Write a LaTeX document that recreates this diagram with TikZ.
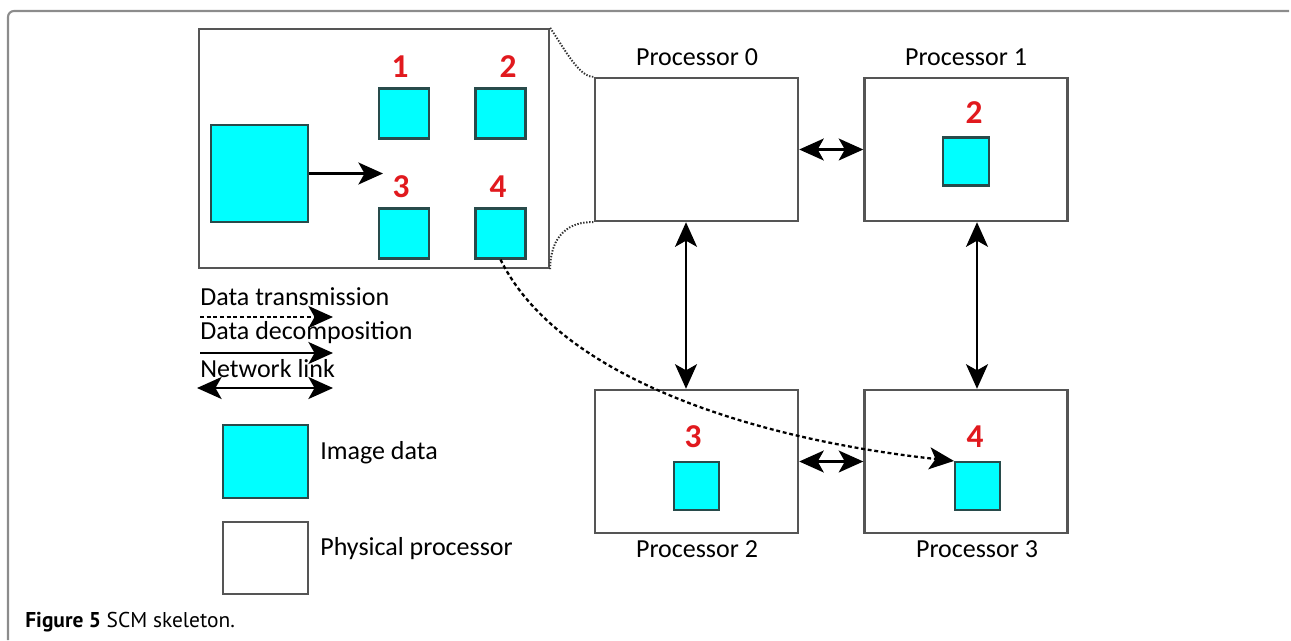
\documentclass[tikz,border=0pt]{standalone}
\usepackage{fontspec}
\setmainfont{Carlito}
\newfontfamily\capfont{PT Sans}
\usetikzlibrary{arrows.meta}
\definecolor{imgcyan}{RGB}{0,255,255}
\definecolor{imgedge}{RGB}{40,75,75}
\definecolor{boxgray}{RGB}{85,85,85}
\definecolor{framegray}{RGB}{140,140,140}
\definecolor{labelred}{RGB}{225,25,30}
\tikzset{
  imgbox/.style={draw=imgedge, fill=imgcyan, line width=1.2pt, inner sep=0pt},
  procbox/.style={draw=boxgray, line width=1.4pt, minimum width=4.06cm, minimum height=2.86cm, inner sep=0pt},
  partno/.style={text=labelred, inner sep=0pt, font=\fontsize{19}{19}\selectfont\bfseries},
  bigtip/.tip={Stealth[length=14pt, width=12.5pt, inset=3.5pt]},
  netlink/.style={line width=1.3pt, bigtip-bigtip},
  splitarrow/.style={line width=1.3pt, -bigtip},
  sendarrow/.style={line width=1.3pt, dash pattern=on 2.2pt off 1.6pt, -bigtip},
  zoomline/.style={line width=1.1pt, dash pattern=on 0.8pt off 0.9pt, black!80}
}
\begin{document}
\begin{tikzpicture}[x=0.02cm, y=-0.02cm, font=\fontsize{14.8}{16}\selectfont]
    \useasboundingbox (0,0) rectangle (1291,640);
    \draw[framegray, line width=1.2pt, rounded corners=0.12cm] (8,640) -- (8,11) -- (1289,11);

    \node[draw=boxgray, line width=1.4pt, minimum width=7cm, minimum height=4.78cm] (zoom) at (374,148.5) {};
    \node[imgbox, minimum size=1.94cm] (whole) at (259.5,173.5) {};
    \node[imgbox, minimum size=1cm] (part1) at (404,113.5) {};
    \node[imgbox, minimum size=1cm] (part2) at (500.5,113.5) {};
    \node[imgbox, minimum size=1cm] (part3) at (404,233.5) {};
    \node[imgbox, minimum size=1cm] (part4) at (500.5,233.5) {};
    \node[partno] (no1) at (400,67) {1};
    \node[partno] (no2) at (508,67) {2};
    \node[partno] (no3) at (401,187) {3};
    \node[partno] (no4) at (498,187) {4};
    \coordinate (splitend) at (383,173.5);
    \draw[splitarrow] (whole.east) -- (splitend);

    \node[procbox] (proc0) at (696.5,149.5) {};
    \node[procbox] (proc1) at (966,149.5) {};
    \node[procbox] (proc2) at (696.5,461.5) {};
    \node[procbox] (proc3) at (966,461.5) {};
    \node (name0) at (697,57) {Processor 0};
    \node (name1) at (966,57) {Processor 1};
    \node (name2) at (697,549) {Processor 2};
    \node (name3) at (977,549) {Processor 3};
    \node[imgbox, minimum width=0.92cm, minimum height=0.96cm] (data1) at (966,161.5) {};
    \node[imgbox, minimum width=0.9cm, minimum height=0.96cm] (data2) at (696.5,486) {};
    \node[imgbox, minimum width=0.9cm, minimum height=0.96cm] (data3) at (977.5,486) {};
    \node[partno] (pno2) at (974,113) {2};
    \node[partno] (pno3) at (693,437) {3};
    \node[partno] (pno4) at (975,437) {4};

    \draw[zoomline] (zoom.north east) .. controls (565,50) and (580,78) .. (proc0.north west);
    \draw[zoomline] (zoom.south east) .. controls (550,235) and (570,221) .. (proc0.south west);

    \draw[netlink] (proc0.east) -- (proc1.west);
    \draw[netlink] (proc2.east) -- (proc3.west);
    \draw[netlink] ([xshift=-0.21cm]proc0.south) -- ([xshift=-0.21cm]proc2.north);
    \draw[netlink] ([xshift=0.22cm]proc1.south) -- ([xshift=0.22cm]proc3.north);
    \draw[sendarrow] (part4.south) .. controls (560,380) and (760,440) .. (data3.north west);

    \node[anchor=west, inner sep=0pt] (lgsend) at (200,297) {Data transmission};
    \node[anchor=west, inner sep=0pt] (lgsplit) at (200,333) {Data decomposition};
    \node[anchor=west, inner sep=0pt] (lglink) at (200,369) {Network link};
    \coordinate (sendA) at (200,317);
    \coordinate (sendB) at (333,317);
    \coordinate (splitA) at (200,353);
    \coordinate (splitB) at (333,353);
    \coordinate (linkA) at (197,388);
    \coordinate (linkB) at (333,388);
    \draw[sendarrow] (sendA) -- (sendB);
    \draw[splitarrow] (splitA) -- (splitB);
    \draw[netlink] (linkA) -- (linkB);

    \node[imgbox, minimum width=1.7cm, minimum height=1.46cm] (keyimg) at (265.5,461.5) {};
    \node[draw=boxgray, line width=1.4pt, minimum width=1.7cm, minimum height=1.44cm] (keyproc) at (265.5,558) {};
    \node[anchor=west, inner sep=0pt] (keyimgtext) at (320,453) {Image data};
    \node[anchor=west, inner sep=0pt] (keyproctext) at (320,549) {Physical processor};

    \node[anchor=west, inner sep=0pt, font=\capfont\fontsize{12.2}{14}\selectfont] (caption) at (25,622) {\textbf{Figure 5} SCM skeleton.};
\end{tikzpicture}
\end{document}
